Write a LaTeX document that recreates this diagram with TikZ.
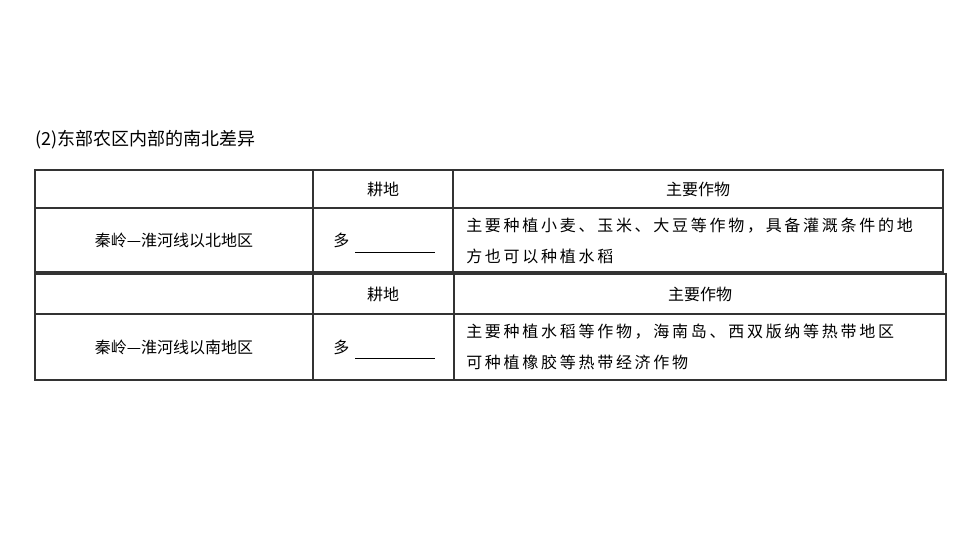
\documentclass[tikz,border=0pt]{standalone}
\usepackage{fontspec}
\setmainfont{Noto Sans CJK SC}
\begin{document}
\begin{tikzpicture}[x=0.75pt,y=-0.75pt,
  cell/.style={inner sep=0pt,font=\fontsize{12}{14}\selectfont},
  wide/.style={inner sep=0pt,anchor=west,font=\fontsize{12}{14}\selectfont\addfontfeatures{LetterSpace=17}},
  tline/.style={line width=0.8pt,black!80}]
\useasboundingbox (0,0) rectangle (960,540);
\node[inner sep=0pt,anchor=west,font=\fontsize{13.5}{16}\selectfont] (title) at (35,140) {(2)东部农区内部的南北差异};
% table 1
\draw[tline] (35,170) rectangle (943,272);
\draw[tline] (35,208) -- (943,208);
\draw[tline] (313,170) -- (313,272);
\draw[tline] (453,170) -- (453,272);
\node[cell] (h1) at (383,189) {耕地};
\node[cell] (h2) at (698,189) {主要作物};
\node[cell] (r1) at (174,240) {秦岭—淮河线以北地区};
\node[cell,anchor=west] (m1) at (333,240) {多};
\draw[line width=0.6pt] (355,252) -- (435,252);
\node[wide] (c1a) at (466,226) {主要种植小麦、玉米、大豆等作物，具备灌溉条件的地};
\node[wide] (c1b) at (466,256) {方也可以种植水稻};
% table 2
\draw[tline] (35,274) rectangle (946,380);
\draw[tline] (35,314) -- (946,314);
\draw[tline] (313,274) -- (313,380);
\draw[tline] (454,274) -- (454,380);
\node[cell] (h3) at (383,294) {耕地};
\node[cell] (h4) at (700,294) {主要作物};
\node[cell] (r2) at (174,347) {秦岭—淮河线以南地区};
\node[cell,anchor=west] (m2) at (333,347) {多};
\draw[line width=0.6pt] (355,358) -- (435,358);
\node[wide] (c2a) at (466,332) {主要种植水稻等作物，海南岛、西双版纳等热带地区};
\node[wide] (c2b) at (466,362) {可种植橡胶等热带经济作物};
\end{tikzpicture}
\end{document}
